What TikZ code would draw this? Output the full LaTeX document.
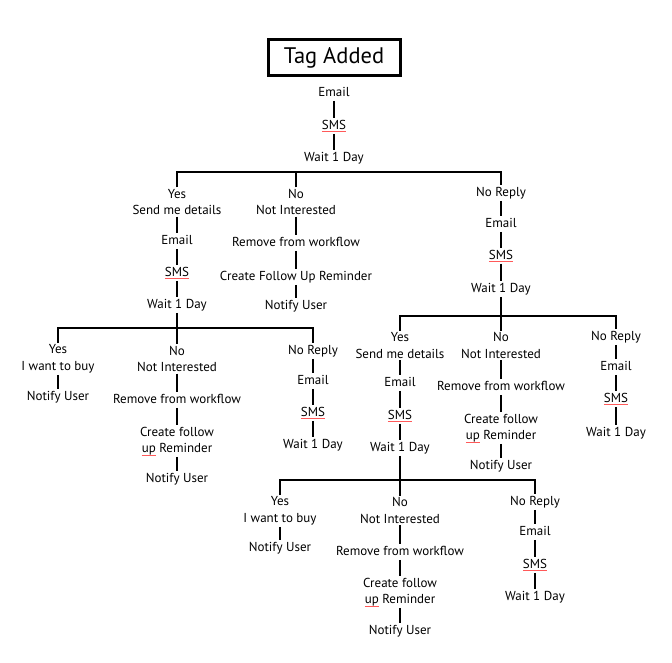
\documentclass[tikz,border=0pt]{standalone}
\usepackage{fontspec}
\setmainfont{PT Sans}
\usepackage{xcolor}
\usepackage{tikz}

% red spell-check mark under a word
\newsavebox{\spellbox}
\newcommand{\spellmark}[1]{\sbox{\spellbox}{#1}\rlap{\textcolor{red!65}{\rule[-2.6pt]{\wd\spellbox}{0.6pt}}}\usebox{\spellbox}}

\begin{document}
\begin{tikzpicture}[
        x=1pt, y=-1pt,
        node distance=32pt,
        % Node styles
        item/.style={font=\fontsize{13}{16.5}\selectfont, inner sep=1.5pt, text height=9.5pt, text depth=2.8pt},
        choice/.style={font=\fontsize{13}{16.5}\selectfont, inner sep=1.5pt, align=center},
        trigger/.style={draw=black, line width=3pt, minimum width=132pt, minimum height=36pt,
                        inner sep=0pt, font=\fontsize{22.5}{27}\selectfont},
        link/.style={line width=2.4pt}
    ]
        \useasboundingbox (0,0) rectangle (672,663);

        % Trigger and first contact
        \node[trigger] (tag) at (334,58) {Tag Added};
        \node[item] (email0) at (334,93) {Email};
        \node[item, below of=email0, yshift=-1pt] (sms0) {\spellmark{SMS}};
        \node[item, below of=sms0] (wait0) {Wait 1 Day};
        \coordinate (bus0) at (334,172);

        % First reply
        \node[choice] (yes1) at (177,202) {Yes\\Send me details};
        \node[item, below of=yes1, yshift=-7pt] (email1) {Email};
        \node[item, below of=email1] (sms1) {\spellmark{SMS}};
        \node[item, below of=sms1] (wait1) {Wait 1 Day};

        \node[choice] (no1) at (296,202) {No\\Not Interested};
        \node[item, below of=no1, yshift=-9pt] (remove1) {Remove from workflow};
        \node[item, below of=remove1, yshift=-2pt] (follow1) {Create Follow Up Reminder};
        \node[item, below of=follow1, yshift=3pt] (notify1) {Notify User};

        \node[item] (nr1) at (501,193) {No Reply};
        \node[item, below of=nr1, yshift=1pt] (email2) {Email};
        \node[item, below of=email2] (sms2) {\spellmark{SMS}};
        \node[item, below of=sms2, yshift=-1pt] (wait2) {Wait 1 Day};

        % Second reply after "Send me details"
        \coordinate (bus1) at (177,328);
        \node[choice] (buy2) at (58,359) {Yes\\I want to buy};
        \node[item, below of=buy2, yshift=-6pt] (notifyb2) {Notify User};

        \node[choice] (no2) at (177,359) {No\\Not Interested};
        \node[item, below of=no2, yshift=-9pt] (remove2) {Remove from workflow};
        \node[choice, below of=remove2, yshift=-9pt] (follow2) {Create follow\\\spellmark{up} Reminder};
        \node[item, below of=follow2, yshift=-6pt] (notify2) {Notify User};

        \node[item] (nr2) at (313,351) {No Reply};
        \node[item, below of=nr2, yshift=2pt] (email3) {Email};
        \node[item, below of=email3] (sms3) {\spellmark{SMS}};
        \node[item, below of=sms3] (wait3) {Wait 1 Day};

        % Second reply after "No Reply"
        \coordinate (bus2) at (501,316);
        \node[choice] (yes3) at (400,345.5) {Yes\\Send me details};
        \node[item, below of=yes3, yshift=-5.5pt] (email4) {Email};
        \node[item, below of=email4, yshift=-1pt] (sms4) {\spellmark{SMS}};
        \node[item, below of=sms4] (wait4) {Wait 1 Day};

        \node[choice] (no3) at (501,345.5) {No\\Not Interested};
        \node[item, below of=no3, yshift=-9.5pt] (remove3) {Remove from workflow};
        \node[choice, below of=remove3, yshift=-9pt] (follow3) {Create follow\\\spellmark{up} Reminder};
        \node[item, below of=follow3, yshift=-6pt] (notify3) {Notify User};

        \node[item] (nr3) at (616,337) {No Reply};
        \node[item, below of=nr3, yshift=2pt] (email5) {Email};
        \node[item, below of=email5] (sms5) {\spellmark{SMS}};
        \node[item, below of=sms5, yshift=-2pt] (wait5) {Wait 1 Day};

        % Third reply
        \coordinate (bus3) at (400,480);
        \node[choice] (buy4) at (280,511) {Yes\\I want to buy};
        \node[item, below of=buy4, yshift=-5pt] (notifyb4) {Notify User};

        \node[choice] (no4) at (400,510.5) {No\\Not Interested};
        \node[item, below of=no4, yshift=-9.5pt] (remove4) {Remove from workflow};
        \node[choice, below of=remove4, yshift=-8pt] (follow4) {Create follow\\\spellmark{up} Reminder};
        \node[item, below of=follow4, yshift=-7pt] (notify4) {Notify User};

        \node[item] (nr4) at (535,502) {No Reply};
        \node[item, below of=nr4, yshift=2pt] (email6) {Email};
        \node[item, below of=email6, yshift=-1pt] (sms6) {\spellmark{SMS}};
        \node[item, below of=sms6] (wait6) {Wait 1 Day};

        % Links for first contact
        \draw[link] (email0) -- (sms0);
        \draw[link] (sms0) -- (wait0);
        \draw[link] (yes1.north) |- (bus0) -| (nr1.north);
        \draw[link] (no1.north) -- (no1.north |- bus0);

        % Links for first reply
        \draw[link] (yes1) -- (email1);
        \draw[link] (email1) -- (sms1);
        \draw[link] (sms1) -- (wait1);
        \draw[link] (no1) -- (remove1);
        \draw[link] (remove1) -- (follow1);
        \draw[link] (follow1) -- (notify1);
        \draw[link] (nr1) -- (email2);
        \draw[link] (email2) -- (sms2);
        \draw[link] (sms2) -- (wait2);

        % Links for second reply (left)
        \draw[link] (wait1) -- (no2);
        \draw[link] (buy2.north) |- (bus1) -| (nr2.north);
        \draw[link] (buy2) -- (notifyb2);
        \draw[link] (no2) -- (remove2);
        \draw[link] (remove2) -- (follow2);
        \draw[link] (follow2) -- (notify2);
        \draw[link] (nr2) -- (email3);
        \draw[link] (email3) -- (sms3);
        \draw[link] (sms3) -- (wait3);

        % Links for second reply (right)
        \draw[link] (wait2) -- (no3);
        \draw[link] (yes3.north) |- (bus2) -| (nr3.north);
        \draw[link] (yes3) -- (email4);
        \draw[link] (email4) -- (sms4);
        \draw[link] (sms4) -- (wait4);
        \draw[link] (no3) -- (remove3);
        \draw[link] (remove3) -- (follow3);
        \draw[link] (follow3) -- (notify3);
        \draw[link] (nr3) -- (email5);
        \draw[link] (email5) -- (sms5);
        \draw[link] (sms5) -- (wait5);

        % Links for third reply
        \draw[link] (wait4) -- (no4);
        \draw[link] (buy4.north) |- (bus3) -| (nr4.north);
        \draw[link] (buy4) -- (notifyb4);
        \draw[link] (no4) -- (remove4);
        \draw[link] (remove4) -- (follow4);
        \draw[link] (follow4) -- (notify4);
        \draw[link] (nr4) -- (email6);
        \draw[link] (email6) -- (sms6);
        \draw[link] (sms6) -- (wait6);
    \end{tikzpicture}
\end{document}
